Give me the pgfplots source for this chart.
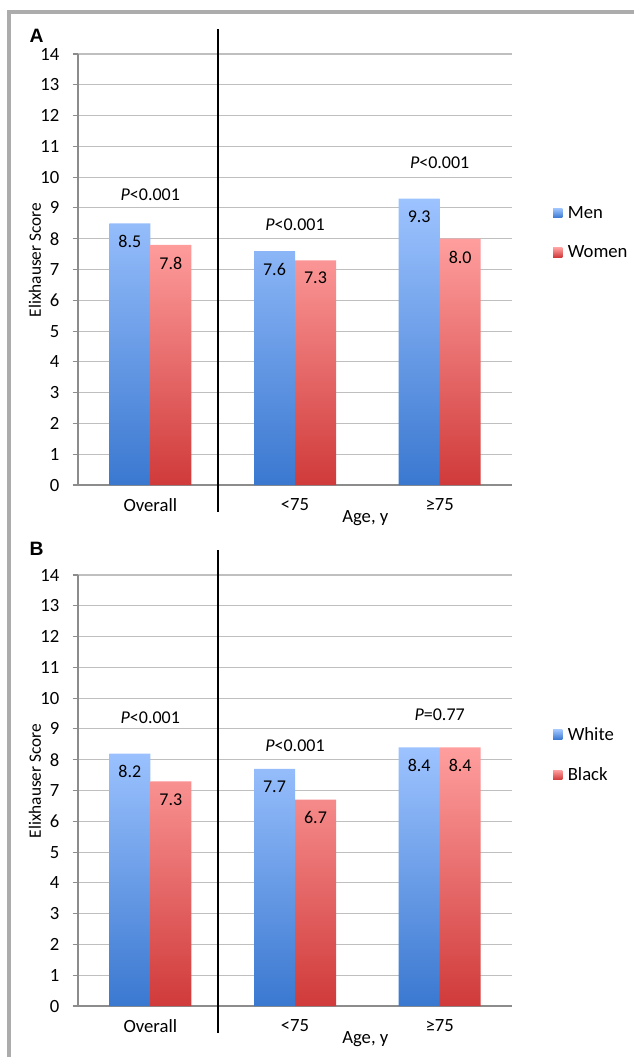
\documentclass[border=0pt]{standalone}
\usepackage{fontspec}
\setmainfont{Carlito}
\newfontfamily\arialfont{Liberation Sans}
\usepackage{pgfplots}
\pgfplotsset{compat=1.18}
\definecolor{bTop}{HTML}{9DC3FF}
\definecolor{bBot}{HTML}{3A78D0}
\definecolor{rTop}{HTML}{FF9E9E}
\definecolor{rBot}{HTML}{D03A3A}
\definecolor{gridc}{HTML}{BFBFBF}
\definecolor{axc}{HTML}{8C8C8C}
\newcommand{\fnt}{\fontsize{13.5}{16}\selectfont}
\newcommand{\tfnt}{\fontsize{14}{16}\selectfont}
\pgfplotsset{
  panel/.style={
    scale only axis, width=325.5pt, height=323.25pt,
    anchor=south west,
    xmin=-0.5, xmax=2.5, ymin=0, ymax=14,
    ytick={0,1,...,14},
    xtick={0,1,2}, xticklabels={Overall,<75,≥75},
    ybar=0pt, bar width=30.75pt,
    axis x line*=bottom, axis y line*=left,
    axis line style={draw=axc, line width=0.8pt},
    ymajorgrids, grid style={gridc, line width=0.8pt},
    ytick style={axc, line width=0.8pt}, major tick length=4pt,
    xtick style={draw=none},
    tick align=outside,
    tick label style={font=\tfnt},
    yticklabel style={xshift=-6.5pt},
    xticklabel style={yshift=-2.5pt},
    clip=false,
    /pgf/number format/assume math mode=true,
    nodes near coords={\pgfmathprintnumber[fixed,fixed zerofill,precision=1]{\pgfplotspointmeta}},
    every node near coord/.append style={anchor=north, yshift=-5.5pt, text=black, font=\fnt},
    legend style={at={(1.085,0.66)}, anchor=north west, draw=none, fill=none, row sep=15pt, font=\tfnt},
    legend cell align=left,
    legend image code/.code={\path[#1, draw=none] (0pt,-3.5pt) rectangle (7pt,3.5pt); \path (9pt,0pt);},
    ylabel={Elixhauser Score},
    ylabel style={at={(axis description cs:-0.099,0.522)}, anchor=center, font=\fontsize{13}{15}\selectfont},
    xlabel={Age, y},
    xlabel style={at={(axis description cs:0.662,-0.077)}, anchor=center, font=\tfnt},
  },
  blueb/.style={draw=none, top color=bTop, bottom color=bBot},
  redb/.style={draw=none, top color=rTop, bottom color=rBot},
}
\begin{document}
\begin{tikzpicture}[font=\fnt]
\useasboundingbox (0pt,0pt) rectangle (475.5pt,-792.75pt);
\draw[gray!65, line width=2.5pt] (6.75pt,-792.75pt) -- (6.75pt,-9pt) -- (475.5pt,-9pt);
\node[font=\arialfont\bfseries\fontsize{14.5}{16}\selectfont] at (27.4pt,-27pt) {A};
\node[font=\arialfont\bfseries\fontsize{14.5}{16}\selectfont] at (27.4pt,-411.75pt) {B};
% Panel A
\begin{axis}[panel, at={(58.5pt,-363.75pt)}]
\addplot[blueb] coordinates {(0,8.5) (1,7.6) (2,9.3)};
\addplot[redb] coordinates {(0,7.8) (1,7.3) (2,8.0)};
\legend{Men,Women}
\draw[black, line width=1.5pt] (axis cs:0.47,-0.88) -- (axis cs:0.47,14.81);
\node at (axis cs:0,9.42) {\textit{P}<0.001};
\node at (axis cs:1,8.44) {\textit{P}<0.001};
\node at (axis cs:2,10.46) {\textit{P}<0.001};
\end{axis}
% Panel B
\begin{axis}[panel, at={(58.5pt,-754.5pt)}]
\addplot[blueb] coordinates {(0,8.2) (1,7.7) (2,8.4)};
\addplot[redb] coordinates {(0,7.3) (1,6.7) (2,8.4)};
\legend{White,Black}
\draw[black, line width=1.5pt] (axis cs:0.47,-0.88) -- (axis cs:0.47,14.81);
\node at (axis cs:0,9.38) {\textit{P}<0.001};
\node at (axis cs:1,8.47) {\textit{P}<0.001};
\node at (axis cs:2,9.45) {\textit{P}=0.77};
\end{axis}
\end{tikzpicture}
\end{document}
